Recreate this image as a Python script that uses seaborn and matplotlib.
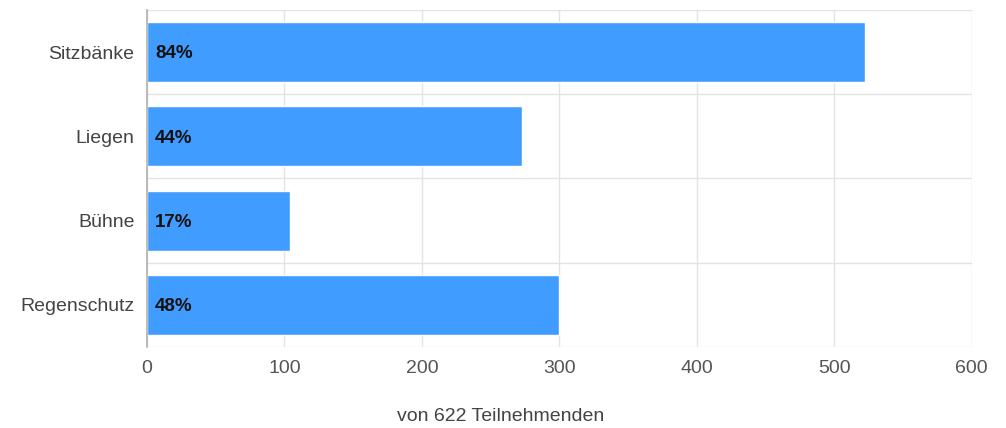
import matplotlib
matplotlib.use('Agg')
import matplotlib.pyplot as plt
import seaborn as sns
import pandas as pd

# Daten
kategorien = ['Sitzbänke', 'Liegen', 'Bühne', 'Regenschutz']
anzahl = [522, 273, 104, 300]
prozent = ['84%', '44%', '17%', '48%']
x_ticks = [0, 100, 200, 300, 400, 500, 600]

df = pd.DataFrame({'Kategorie': kategorien, 'Anzahl': anzahl})

sns.set_theme(style='white')
plt.rcParams['font.family'] = ['Liberation Sans', 'DejaVu Sans']

fig = plt.figure(figsize=(10.06, 4.28), dpi=100)
ax = fig.add_axes([0.146, 0.189, 0.82, 0.788])

sns.barplot(data=df, y='Kategorie', x='Anzahl', color='#409cfe', width=0.71,
            saturation=1, ax=ax, zorder=3)

for i, txt in enumerate(prozent):
    ax.text(6, i + 0.02, txt, va='center', ha='left', fontsize=13.5,
            fontweight='bold', color='#111111', zorder=4)

ax.set_xlim(0, 600)
ax.set_ylim(len(kategorien) - 0.5, -0.5)
ax.set_xticks(x_ticks)
ax.set_xticklabels([str(t) for t in x_ticks])
ax.set_yticks([i - 0.5 for i in range(len(kategorien) + 1)], minor=True)

ax.grid(axis='x', which='major', color='#e3e3e3', linewidth=1, zorder=0)
ax.grid(axis='y', which='minor', color='#e3e3e3', linewidth=1, zorder=0)
ax.tick_params(axis='x', which='major', length=8, color='#e3e3e3', labelsize=14,
               labelcolor='#555555', pad=1.5)
ax.tick_params(axis='y', which='major', length=0, labelsize=14,
               labelcolor='#444444', pad=9)
ax.tick_params(axis='y', which='minor', length=12, color='#e3e3e3')

for s in ['top', 'right', 'bottom']:
    ax.spines[s].set_visible(False)
ax.spines['left'].set_color('#b0b0b0')
ax.spines['left'].set_linewidth(1.2)
ax.spines['left'].set_zorder(5)

ax.set_xlabel('')
ax.set_ylabel('')
fig.text(0.498, 0.008, 'von 622 Teilnehmenden', ha='center', va='bottom',
         fontsize=14, color='#444444')

fig.savefig('out.png', dpi=100)
